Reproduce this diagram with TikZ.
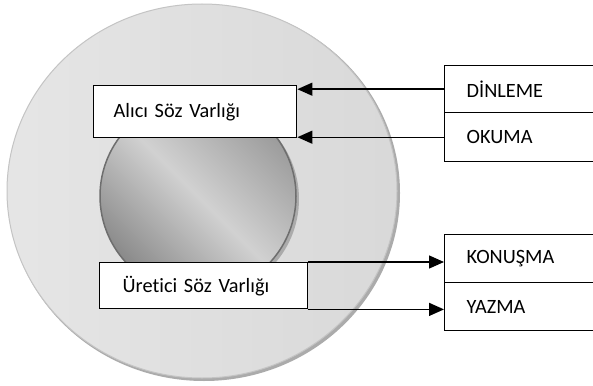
\documentclass[tikz,border=0pt]{standalone}
\usepackage{fontspec}
\setmainfont{Carlito}[Ligatures=CommonOff]
\usetikzlibrary{arrows.meta}
\definecolor{outerline}{HTML}{C4C4C4}
\definecolor{outershadow}{HTML}{ABABAB}
\definecolor{innerline}{HTML}{6E6E6E}
\pgfdeclarehorizontalshading{innershade}{100bp}{%
  color(0bp)=(black!58); color(18bp)=(black!54); color(50bp)=(black!18);
  color(82bp)=(black!45); color(100bp)=(black!46)}
\begin{document}
\begin{tikzpicture}[x=1pt,y=-1pt,
  every node/.style={font=\fontsize{20.3}{24}\selectfont},
  box/.style={draw=black, fill=white, line width=1.4pt, anchor=north west,
    align=left, inner ysep=0pt},
  arr/.style={line width=1.4pt, -{Triangle[length=15pt,width=13pt]}}]
\useasboundingbox (0,0) rectangle (593,385);
\clip (0,0) rectangle (593,385);
\fill[white] (0,0) rectangle (593,385);
% outer disc
\fill[outershadow] (204,193) ellipse [x radius=196, y radius=188];
\shade[left color=white!90!black, right color=white!85!black, draw=outerline, line width=1pt]
  (202,191) ellipse [x radius=195, y radius=187];
% inner disc
\fill[black!33] (201,199) circle [radius=98];
\shade[shading=innershade, shading angle=45, draw=innerline, line width=1.5pt]
  (198,196) circle [radius=98];
% boxes
\node[box, minimum width=203, minimum height=52, text width=163, inner xsep=20]
  (alici) at (93,85) {Alıcı Söz Varlığı};
\node[box, minimum width=208, minimum height=46, text width=162, inner xsep=23]
  (uretici) at (99,262) {Üretici Söz Varlığı};
\node[box, minimum width=180, minimum height=47, text width=136, inner xsep=22]
  (din) at (444,65) {DİNLEME};
\node[box, minimum width=180, minimum height=49, text width=136, inner xsep=22]
  (oku) at (444,112) {OKUMA};
\node[box, minimum width=180, minimum height=48, text width=136, inner xsep=22]
  (kon) at (444,234) {KONUŞMA};
\node[box, minimum width=180, minimum height=48, text width=136, inner xsep=22]
  (yaz) at (444,282) {YAZMA};
% connectors
\draw[arr] (din.west) -- (din.west -| alici.east);
\draw[arr] (oku.west) -- (oku.west -| alici.east);
\draw[arr] (uretici.north east) -- (uretici.north east -| kon.west);
\draw[arr] (uretici.south east) -- (uretici.south east -| yaz.west);
\end{tikzpicture}
\end{document}
